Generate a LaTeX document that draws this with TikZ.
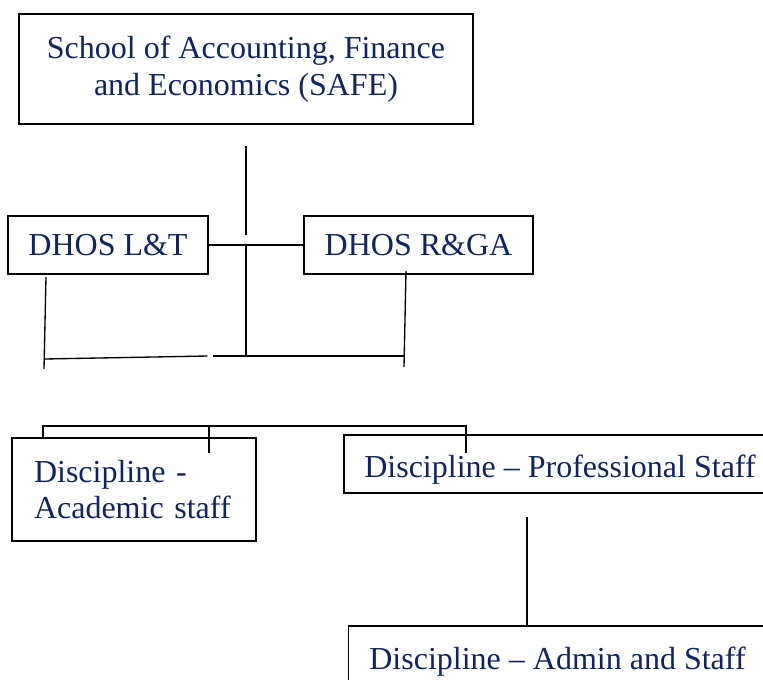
\documentclass[tikz,border=0pt]{standalone}
\usepackage{fontspec}
\setmainfont{Liberation Serif}
\definecolor{navy}{RGB}{15,36,96}
\begin{document}
\begin{tikzpicture}[x=0.75pt,y=-0.75pt,
  box/.style={draw=black, line width=1pt, rectangle, inner sep=0pt, text=navy,
    font=\fontsize{24pt}{27.5pt}\selectfont, align=center},
  conn/.style={draw=black, line width=1pt}]
\useasboundingbox (0,0) rectangle (763,679);
\fill[white] (0,0) rectangle (763,679);
\clip (0,0) rectangle (763,679);
% boxes
\node[box, minimum width=340.5pt, minimum height=82.5pt] (safe) at (246,69)
  {School of Accounting, Finance\\and Economics (SAFE)};
\node[box, minimum width=150pt, minimum height=43.5pt] (lt) at (108,245) {DHOS L\&T};
\node[box, minimum width=171.75pt, minimum height=43.5pt] (rg) at (418.5,245) {DHOS R\&GA};
\node[box, minimum height=77.25pt, text width=150pt, align=left, inner xsep=16.5pt] (acad) at (134,489.5)
  {Discipline -\\Academic staff};
\node[box, minimum width=324pt, minimum height=43.5pt, text height=25pt, text depth=5.5pt] (prof) at (560,464)
  {Discipline – Professional Staff};
\node[box, minimum width=314pt, minimum height=43.5pt, text height=26.5pt, text depth=5.5pt] (admin) at (557.5,655)
  {Discipline – Admin and Staff};
% coordinates
\coordinate (t1) at (246,146);
\coordinate (t2) at (246,235);
\coordinate (j) at (246,245);
\coordinate (jb) at (246,357);
\coordinate (l1) at (46,277);
\coordinate (l2) at (44,369);
\coordinate (b1) at (44,359);
\coordinate (b2) at (207.5,356);
\coordinate (b3) at (213,356);
\coordinate (b4) at (405,356);
\coordinate (r1) at (406,271);
\coordinate (r2) at (404,367);
\coordinate (k1) at (43,426);
\coordinate (k2) at (466,426);
\coordinate (k3) at (466,453);
\coordinate (m1) at (209,426);
\coordinate (m2) at (209,453);
\coordinate (p1) at (527,517);
% connectors
\draw[conn] (t1) -- (t2);
\draw[conn] (lt.east) -- (rg.west);
\draw[conn] (j) -- (jb);
\draw[conn] (l1) -- (l2);
\draw[conn] (b1) -- (b2);
\draw[conn] (b3) -- (b4);
\draw[conn] (r1) -- (r2);
\draw[conn] (acad.north -| k1) -- (k1) -- (k2) -- (k3);
\draw[conn] (m1) -- (m2);
\draw[conn] (p1) -- (p1 |- admin.north);
\end{tikzpicture}
\end{document}
